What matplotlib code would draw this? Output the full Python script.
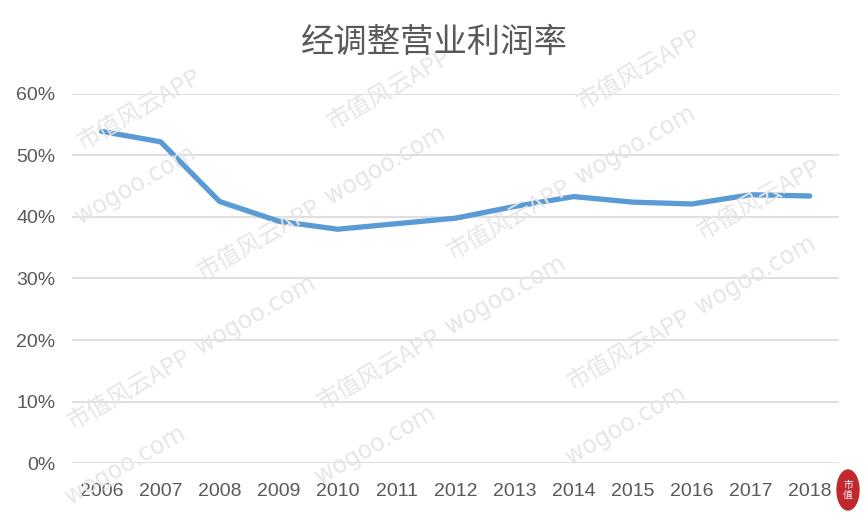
import matplotlib.pyplot as plt
import matplotlib.patches as mpatches
from matplotlib.ticker import PercentFormatter

plt.rcParams['font.family'] = ['Noto Sans CJK SC', 'DejaVu Sans']

# 数据
years = ['2006', '2007', '2008', '2009', '2010', '2011', '2012',
         '2013', '2014', '2015', '2016', '2017', '2018']
margin = [53.9, 52.2, 42.5, 39.3, 38.0, 38.9, 39.8,
          41.7, 43.3, 42.4, 42.1, 43.6, 43.4]
y_ticks = [0, 10, 20, 30, 40, 50, 60]

fig = plt.figure(figsize=(8.68, 5.21), dpi=100)
ax = fig.add_axes([0.083, 0.111, 0.884, 0.709])

x = list(range(len(years)))
ax.plot(x, margin, color='#5B9BD5', linewidth=3.8, solid_capstyle='round',
        solid_joinstyle='round', zorder=3)

ax.set_xlim(-0.5, len(years) - 0.5)
ax.set_ylim(0, 60)
ax.set_yticks(y_ticks)
ax.yaxis.set_major_formatter(PercentFormatter(decimals=0))
ax.set_xticks(x)
ax.set_xticklabels(years)
ax.grid(axis='y', color='#D9D9D9', linewidth=1.2)
ax.set_axisbelow(True)
for s in ax.spines.values():
    s.set_visible(False)
ax.tick_params(length=0, colors='#595959', labelsize=14)
ax.tick_params(axis='x', pad=14)
ax.tick_params(axis='y', pad=12)
for lab in ax.get_xticklabels() + ax.get_yticklabels():
    lab.set_family('Liberation Sans')

fig.text(0.5, 0.918, '经调整营业利润率', ha='center', va='center',
         fontsize=24, color='#595959')

# 水印（只保留完整落在画面内的）
wm = []
for i in range(-3, 7):
    for j in range(-3, 6):
        px = i * 250 + j * 130
        py = 540 - j * 150 - i * 20
        wm.append(fig.text(px / 868, 1 - py / 521, '市值风云APP', fontsize=17,
                           color='#E6E6E6', rotation=30, ha='center', va='center',
                           zorder=0))
        wm.append(fig.text((px + 125) / 868, 1 - (py - 75) / 521, 'wogoo.com',
                           fontsize=17, color='#E6E6E6', rotation=30, ha='center',
                           va='center', zorder=0, family='DejaVu Sans'))
r = fig.canvas.get_renderer()
for t in wm:
    bb = t.get_window_extent(r)
    if bb.x0 < 1 or bb.y0 < 1 or bb.x1 > 867 or bb.y1 > 520:
        t.remove()

# 角标
logo = mpatches.Ellipse((848 / 868, 1 - 490 / 521), 22 / 868, 40 / 521,
                        transform=fig.transFigure, color='#C0282D', zorder=5)
fig.patches.append(logo)
fig.text(848 / 868, 1 - 490 / 521, '市\n值', fontsize=7, color='white',
         ha='center', va='center', zorder=6, linespacing=0.9)

fig.savefig('out.png', dpi=100)
